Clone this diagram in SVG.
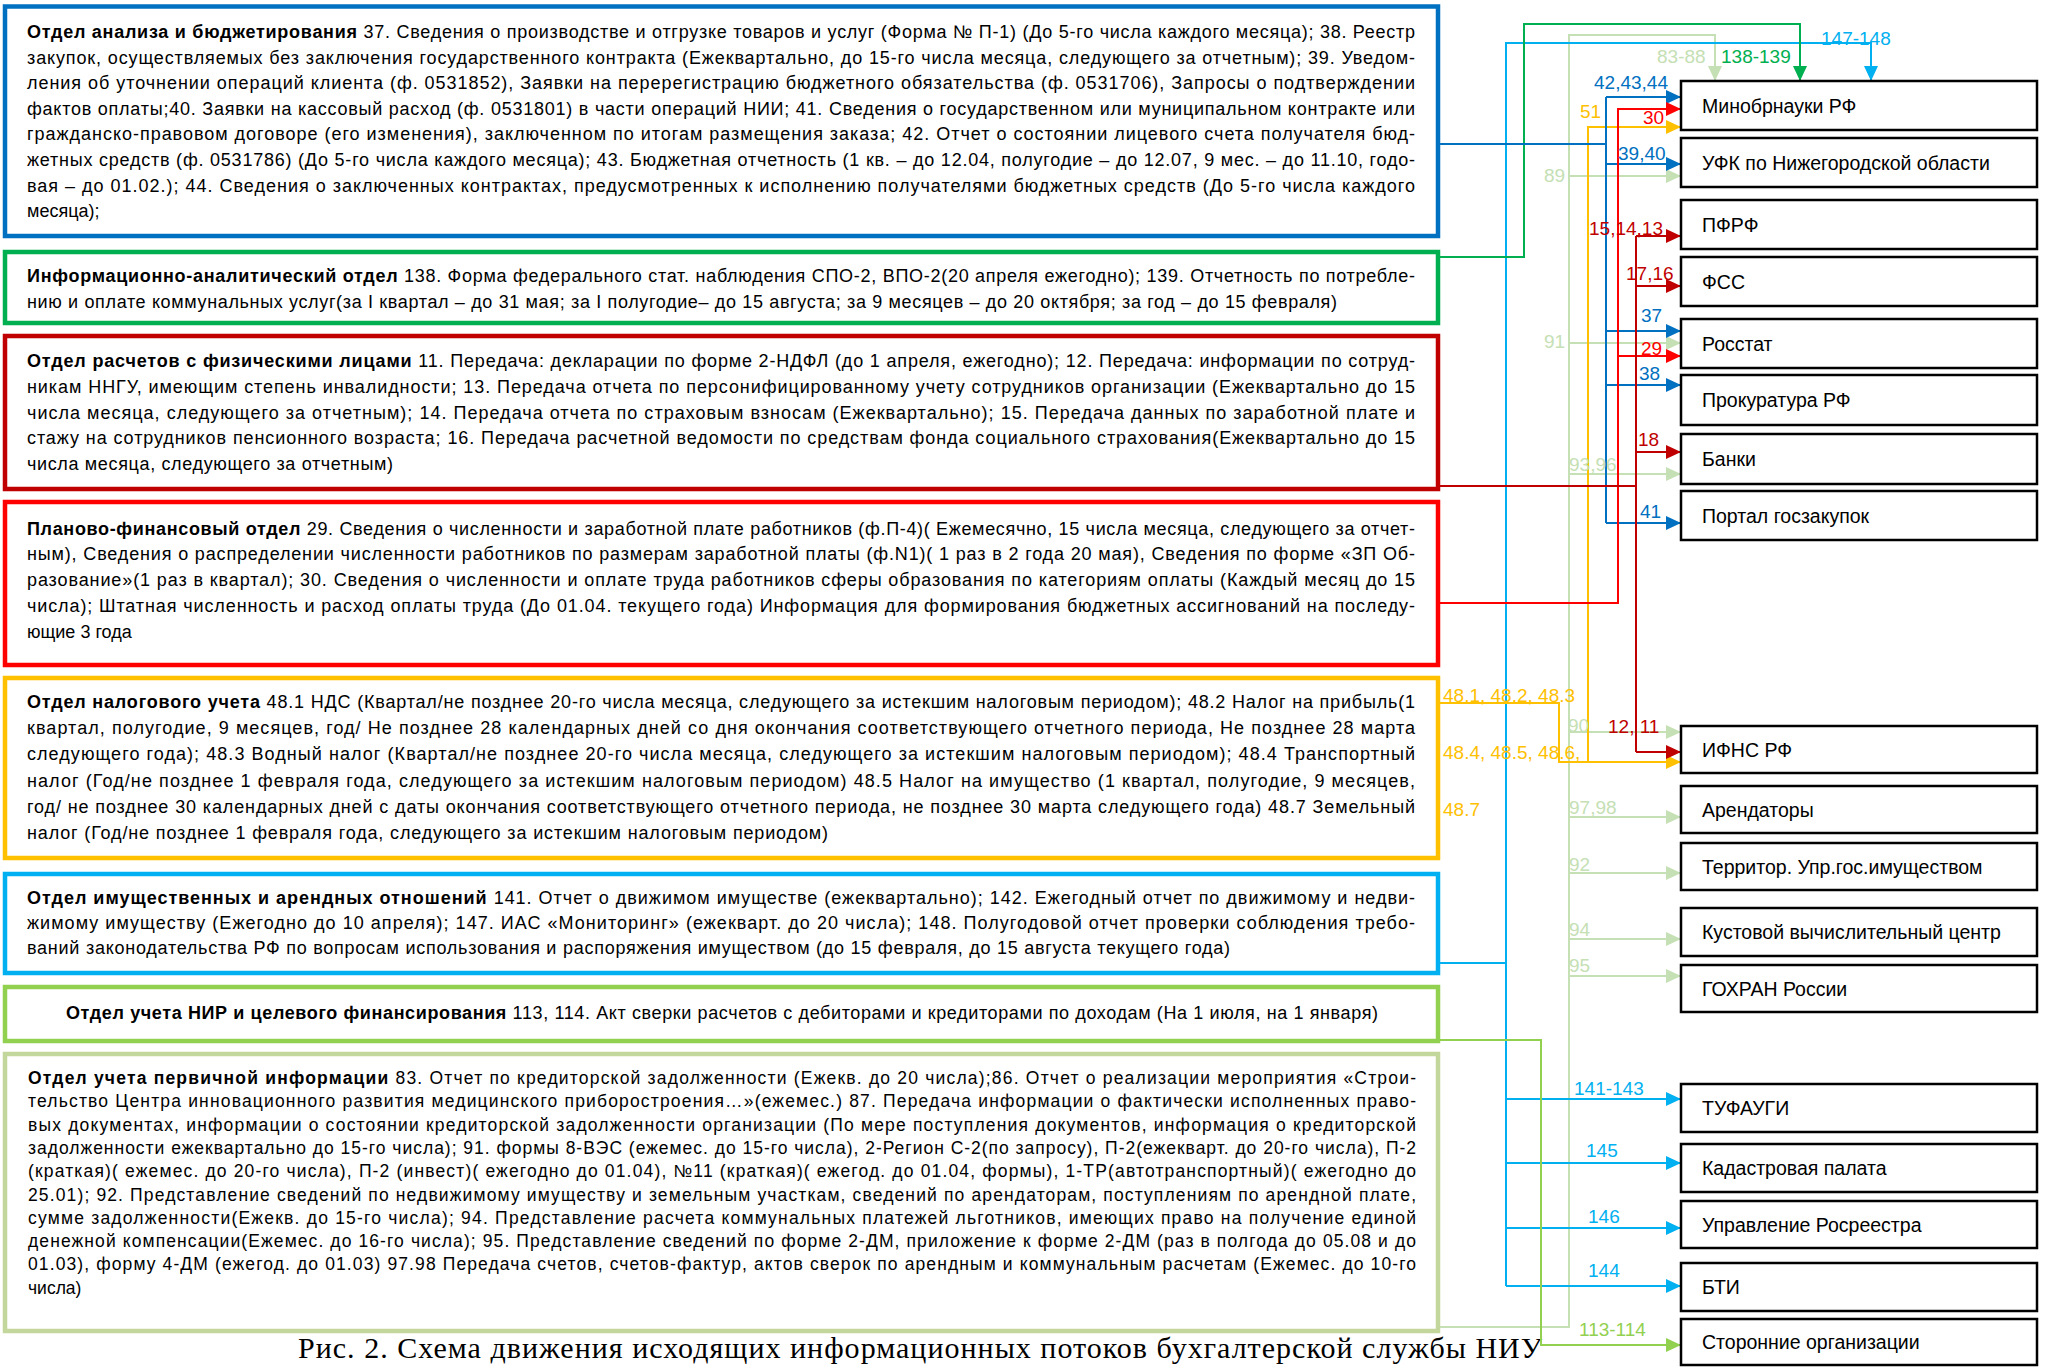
<svg xmlns="http://www.w3.org/2000/svg" width="2047" height="1367" viewBox="0 0 2047 1367">
<style>
.dept{fill:#fff;stroke-width:4.5}
.bt{font-family:"Liberation Sans",Arial,sans-serif;font-size:18px;fill:#000}
.bt8{font-family:"Liberation Sans",Arial,sans-serif;font-size:17.5px;fill:#000}
.b{font-weight:bold}
.node rect{fill:#fff;stroke:#000;stroke-width:2.5}
.node text{font-family:"Liberation Sans",Arial,sans-serif;font-size:19.5px;fill:#000}
.lbl{font-family:"Liberation Sans",Arial,sans-serif;font-size:19px}
.c{fill:none;stroke-width:2}
.cap{font-family:"Liberation Serif","Times New Roman",serif;font-size:30px;fill:#000}
</style>
<defs>
<marker id="mBlue" markerUnits="userSpaceOnUse" markerWidth="15" markerHeight="14" refX="15" refY="7" orient="auto" viewBox="0 0 15 14"><path d="M0,0 L15,7 L0,14 z" fill="#0070C0"/></marker>
<marker id="mRed" markerUnits="userSpaceOnUse" markerWidth="15" markerHeight="14" refX="15" refY="7" orient="auto" viewBox="0 0 15 14"><path d="M0,0 L15,7 L0,14 z" fill="#FF0000"/></marker>
<marker id="mDRed" markerUnits="userSpaceOnUse" markerWidth="15" markerHeight="14" refX="15" refY="7" orient="auto" viewBox="0 0 15 14"><path d="M0,0 L15,7 L0,14 z" fill="#C00000"/></marker>
<marker id="mOrange" markerUnits="userSpaceOnUse" markerWidth="15" markerHeight="14" refX="15" refY="7" orient="auto" viewBox="0 0 15 14"><path d="M0,0 L15,7 L0,14 z" fill="#FFC000"/></marker>
<marker id="mCyan" markerUnits="userSpaceOnUse" markerWidth="15" markerHeight="14" refX="15" refY="7" orient="auto" viewBox="0 0 15 14"><path d="M0,0 L15,7 L0,14 z" fill="#00B0F0"/></marker>
<marker id="mGreen" markerUnits="userSpaceOnUse" markerWidth="15" markerHeight="14" refX="15" refY="7" orient="auto" viewBox="0 0 15 14"><path d="M0,0 L15,7 L0,14 z" fill="#00B050"/></marker>
<marker id="mPale" markerUnits="userSpaceOnUse" markerWidth="15" markerHeight="14" refX="15" refY="7" orient="auto" viewBox="0 0 15 14"><path d="M0,0 L15,7 L0,14 z" fill="#C5E0B4"/></marker>
<marker id="mLGreen" markerUnits="userSpaceOnUse" markerWidth="15" markerHeight="14" refX="15" refY="7" orient="auto" viewBox="0 0 15 14"><path d="M0,0 L15,7 L0,14 z" fill="#92D050"/></marker>
</defs>
<rect width="2047" height="1367" fill="#fff"/>

<g id="dept-analysis">
<rect class="dept" x="5" y="6.5" width="1433" height="229.5" stroke="#0070C0"/>
<text class="bt" x="27" y="38" textLength="1388" lengthAdjust="spacing"><tspan class="b">Отдел анализа и бюджетирования</tspan> 37. Сведения о производстве и отгрузке товаров и услуг (Форма № П-1) (До 5-го числа каждого месяца); 38. Реестр</text>
<text class="bt" x="27" y="63.6" textLength="1388" lengthAdjust="spacing">закупок, осуществляемых без заключения государственного контракта (Ежеквартально, до 15-го числа месяца, следующего за отчетным); 39. Уведом-</text>
<text class="bt" x="27" y="89.2" textLength="1388" lengthAdjust="spacing">ления об уточнении операций клиента (ф. 0531852), Заявки на перерегистрацию бюджетного обязательства (ф. 0531706), Запросы о подтверждении</text>
<text class="bt" x="27" y="114.8" textLength="1388" lengthAdjust="spacing">фактов оплаты;40. Заявки на кассовый расход (ф. 0531801) в части операций НИИ; 41. Сведения о государственном или муниципальном контракте или</text>
<text class="bt" x="27" y="140.4" textLength="1388" lengthAdjust="spacing">гражданско-правовом договоре (его изменения), заключенном по итогам размещения заказа; 42. Отчет о состоянии лицевого счета получателя бюд-</text>
<text class="bt" x="27" y="166" textLength="1388" lengthAdjust="spacing">жетных средств (ф. 0531786) (До 5-го числа каждого месяца); 43. Бюджетная отчетность (1 кв. – до 12.04, полугодие – до 12.07, 9 мес. – до 11.10, годо-</text>
<text class="bt" x="27" y="191.6" textLength="1388" lengthAdjust="spacing">вая – до 01.02.); 44. Сведения о заключенных контрактах, предусмотренных к исполнению получателями бюджетных средств (До  5-го числа каждого</text>
<text class="bt" x="27" y="217.2">месяца);</text>
</g>

<g id="dept-info">
<rect class="dept" x="5" y="252" width="1433" height="71" stroke="#00B050"/>
<text class="bt" x="27" y="282" textLength="1388" lengthAdjust="spacing"><tspan class="b">Информационно-аналитический отдел</tspan> 138. Форма федерального стат. наблюдения СПО-2, ВПО-2(20 апреля ежегодно); 139. Отчетность по потребле-</text>
<text class="bt" x="27" y="307.5" textLength="1310" lengthAdjust="spacing">нию и оплате коммунальных услуг(за I квартал – до 31 мая; за I полугодие– до 15 августа; за 9 месяцев – до 20 октября; за год – до 15 февраля)</text>
</g>

<g id="dept-persons">
<rect class="dept" x="5" y="336" width="1433" height="153" stroke="#C00000"/>
<text class="bt" x="27" y="367" textLength="1388" lengthAdjust="spacing"><tspan class="b">Отдел расчетов с физическими лицами</tspan>  11. Передача: декларации по форме 2-НДФЛ (до 1 апреля, ежегодно); 12. Передача: информации по сотруд-</text>
<text class="bt" x="27" y="392.8" textLength="1388" lengthAdjust="spacing">никам ННГУ, имеющим степень инвалидности; 13. Передача отчета по персонифицированному учету сотрудников организации (Ежеквартально до 15</text>
<text class="bt" x="27" y="418.6" textLength="1388" lengthAdjust="spacing">числа месяца, следующего за отчетным); 14. Передача отчета по страховым взносам (Ежеквартально); 15. Передача данных по заработной плате и</text>
<text class="bt" x="27" y="444.4" textLength="1388" lengthAdjust="spacing">стажу на сотрудников пенсионного возраста; 16. Передача расчетной ведомости по средствам фонда социального страхования(Ежеквартально до 15</text>
<text class="bt" x="27" y="470.2" textLength="366" lengthAdjust="spacing">числа месяца, следующего за отчетным)</text>
</g>

<g id="dept-planning">
<rect class="dept" x="5" y="502" width="1433" height="163" stroke="#FF0000"/>
<text class="bt" x="27" y="534.5" textLength="1388" lengthAdjust="spacing"><tspan class="b">Планово-финансовый отдел</tspan>  29. Сведения о численности и заработной плате работников (ф.П-4)( Ежемесячно, 15 числа месяца, следующего за отчет-</text>
<text class="bt" x="27" y="560.3" textLength="1388" lengthAdjust="spacing">ным), Сведения о распределении численности работников по размерам заработной платы (ф.N1)( 1 раз в 2 года 20 мая), Сведения по форме «ЗП Об-</text>
<text class="bt" x="27" y="586.1" textLength="1388" lengthAdjust="spacing">разование»(1 раз в квартал); 30. Сведения о численности и оплате труда работников сферы образования по категориям оплаты (Каждый месяц до 15</text>
<text class="bt" x="27" y="611.9" textLength="1388" lengthAdjust="spacing">числа); Штатная численность и расход оплаты труда (До 01.04. текущего года) Информация для формирования бюджетных ассигнований на последу-</text>
<text class="bt" x="27" y="637.7">ющие 3 года</text>
</g>

<g id="dept-tax">
<rect class="dept" x="5" y="678" width="1433" height="180" stroke="#FFC000"/>
<text class="bt" x="27" y="708" textLength="1388" lengthAdjust="spacing"><tspan class="b">Отдел налогового учета</tspan> 48.1 НДС (Квартал/не позднее 20-го числа месяца, следующего за истекшим налоговым периодом); 48.2 Налог на прибыль(1</text>
<text class="bt" x="27" y="734.2" textLength="1388" lengthAdjust="spacing">квартал, полугодие, 9 месяцев, год/ Не позднее 28 календарных дней со дня окончания соответствующего отчетного периода,  Не позднее 28 марта</text>
<text class="bt" x="27" y="760.4" textLength="1388" lengthAdjust="spacing">следующего года); 48.3 Водный налог (Квартал/не позднее 20-го числа месяца, следующего за истекшим налоговым периодом); 48.4 Транспортный</text>
<text class="bt" x="27" y="786.6" textLength="1388" lengthAdjust="spacing">налог (Год/не позднее 1 февраля года, следующего за истекшим налоговым периодом) 48.5 Налог на имущество (1 квартал, полугодие, 9 месяцев,</text>
<text class="bt" x="27" y="812.8" textLength="1388" lengthAdjust="spacing">год/ не позднее 30 календарных дней с даты окончания соответствующего отчетного периода, не позднее 30 марта следующего года) 48.7 Земельный</text>
<text class="bt" x="27" y="839" textLength="801" lengthAdjust="spacing">налог (Год/не позднее 1 февраля года, следующего за истекшим налоговым периодом)</text>
</g>

<g id="dept-property">
<rect class="dept" x="5" y="874" width="1433" height="99" stroke="#00B0F0"/>
<text class="bt" x="27" y="904" textLength="1388" lengthAdjust="spacing"><tspan class="b">Отдел имущественных и арендных отношений</tspan> 141. Отчет о движимом имуществе (ежеквартально); 142. Ежегодный отчет по движимому и недви-</text>
<text class="bt" x="27" y="929" textLength="1388" lengthAdjust="spacing">жимому имуществу (Ежегодно до 10 апреля); 147. ИАС «Мониторинг» (ежекварт. до 20 числа); 148. Полугодовой отчет проверки соблюдения  требо-</text>
<text class="bt" x="27" y="953.5" textLength="1203" lengthAdjust="spacing">ваний законодательства РФ по вопросам использования и распоряжения имуществом (до 15 февраля, до 15 августа текущего года)</text>
</g>

<g id="dept-nir">
<rect class="dept" x="5" y="987" width="1433" height="54" stroke="#92D050"/>
<text class="bt" x="66" y="1019" textLength="1312" lengthAdjust="spacing"><tspan class="b">Отдел учета НИР и целевого финансирования</tspan> 113, 114. Акт сверки расчетов с дебиторами и кредиторами по доходам (На 1 июля, на 1 января)</text>
</g>

<g id="dept-primary">
<rect class="dept" x="5" y="1054" width="1433" height="277" stroke="#C3D69B"/>
<text class="bt8" x="28" y="1084" textLength="1388" lengthAdjust="spacing"><tspan class="b">Отдел учета первичной информации</tspan> 83. Отчет по кредиторской задолженности (Ежекв. до 20 числа);86. Отчет о реализации мероприятия «Строи-</text>
<text class="bt8" x="28" y="1107.3" textLength="1388" lengthAdjust="spacing">тельство Центра инновационного развития медицинского приборостроения…»(ежемес.) 87. Передача информации о фактически исполненных право-</text>
<text class="bt8" x="28" y="1130.6" textLength="1388" lengthAdjust="spacing">вых документах, информации о состоянии кредиторской задолженности организации (По мере поступления документов, информация о кредиторской</text>
<text class="bt8" x="28" y="1153.9" textLength="1388" lengthAdjust="spacing">задолженности ежеквартально до 15-го числа); 91. формы 8-ВЭС (ежемес. до 15-го числа), 2-Регион С-2(по запросу), П-2(ежекварт. до 20-го числа), П-2</text>
<text class="bt8" x="28" y="1177.2" textLength="1388" lengthAdjust="spacing">(краткая)( ежемес. до 20-го числа), П-2 (инвест)( ежегодно до 01.04), №11 (краткая)( ежегод. до 01.04, формы), 1-ТР(автотранспортный)( ежегодно до</text>
<text class="bt8" x="28" y="1200.5" textLength="1388" lengthAdjust="spacing">25.01); 92. Представление сведений по недвижимому имуществу и земельным участкам, сведений по арендаторам, поступлениям по арендной плате,</text>
<text class="bt8" x="28" y="1223.8" textLength="1388" lengthAdjust="spacing">сумме задолженности(Ежекв. до 15-го числа); 94. Представление расчета коммунальных платежей льготников, имеющих право на получение единой</text>
<text class="bt8" x="28" y="1247.1" textLength="1388" lengthAdjust="spacing">денежной компенсации(Ежемес. до 16-го числа); 95. Представление сведений по форме 2-ДМ, приложение к форме 2-ДМ (раз в полгода до 05.08 и до</text>
<text class="bt8" x="28" y="1270.4" textLength="1388" lengthAdjust="spacing">01.03), форму 4-ДМ (ежегод. до 01.03) 97.98 Передача счетов, счетов-фактур, актов сверок по арендным и коммунальным расчетам (Ежемес. до 10-го</text>
<text class="bt8" x="28" y="1293.7">числа)</text>
</g>

<text id="caption" class="cap" x="298" y="1358" textLength="1244" lengthAdjust="spacing">Рис. 2. Схема движения исходящих информационных потоков бухгалтерской службы НИУ</text>

<g id="connectors">
<g stroke="#C5E0B4">
<path class="c" d="M1440,1327 H1569 V35 H1715 V81" marker-end="url(#mPale)"/>
<path class="c" d="M1569,176 H1681" marker-end="url(#mPale)"/>
<path class="c" d="M1569,343 H1681" marker-end="url(#mPale)"/>
<path class="c" d="M1569,474 H1681" marker-end="url(#mPale)"/>
<path class="c" d="M1569,732 H1681" marker-end="url(#mPale)"/>
<path class="c" d="M1569,817 H1681" marker-end="url(#mPale)"/>
<path class="c" d="M1569,873 H1681" marker-end="url(#mPale)"/>
<path class="c" d="M1569,939 H1681" marker-end="url(#mPale)"/>
<path class="c" d="M1569,976 H1681" marker-end="url(#mPale)"/>
</g>
<g stroke="#00B0F0">
<path class="c" d="M1440,963 H1506"/>
<path class="c" d="M1506,1286 V43 H1871 V81" marker-end="url(#mCyan)"/>
<path class="c" d="M1506,1099 H1681" marker-end="url(#mCyan)"/>
<path class="c" d="M1506,1163 H1681" marker-end="url(#mCyan)"/>
<path class="c" d="M1506,1228 H1681" marker-end="url(#mCyan)"/>
<path class="c" d="M1506,1286 H1681" marker-end="url(#mCyan)"/>
</g>
<path class="c" stroke="#00B050" d="M1440,257 H1524 V24 H1800 V81" marker-end="url(#mGreen)"/>
<path class="c" stroke="#92D050" d="M1440,1040 H1541 V1345 H1681" marker-end="url(#mLGreen)"/>
<path class="c" stroke="#FFC000" stroke-width="1.3" d="M1440,703 H1559 V762 H1681" marker-end="url(#mOrange)"/>
<path class="c" stroke="#FFC000" stroke-width="2.5" d="M1588,762 V127 H1681" marker-end="url(#mOrange)"/>
<g stroke="#0070C0">
<path class="c" d="M1440,144 H1606"/>
<path class="c" d="M1606,97 V523"/>
<path class="c" d="M1606,97 H1681" marker-end="url(#mBlue)"/>
<path class="c" d="M1606,164 H1681" marker-end="url(#mBlue)"/>
<path class="c" d="M1606,331 H1681" marker-end="url(#mBlue)"/>
<path class="c" d="M1606,385 H1681" marker-end="url(#mBlue)"/>
<path class="c" d="M1606,523 H1681" marker-end="url(#mBlue)"/>
</g>
<g stroke="#FF0000">
<path class="c" stroke-width="1.5" d="M1440,603 H1618 V109 H1681" marker-end="url(#mRed)"/>
<path class="c" stroke-width="1.5" d="M1618,356 H1681" marker-end="url(#mRed)"/>
</g>
<g stroke="#C00000">
<path class="c" d="M1440,486 H1636"/>
<path class="c" d="M1636,236 V752"/>
<path class="c" d="M1636,236 H1681" marker-end="url(#mDRed)"/>
<path class="c" d="M1636,286 H1681" marker-end="url(#mDRed)"/>
<path class="c" d="M1636,452 H1681" marker-end="url(#mDRed)"/>
<path class="c" d="M1636,752 H1681" marker-end="url(#mDRed)"/>
</g>
<g class="lbl">
<text x="1821" y="45" fill="#00B0F0">147-148</text>
<text x="1657" y="63" fill="#C5E0B4">83-88</text>
<text x="1721" y="63" fill="#00B050">138-139</text>
<text x="1594" y="89" fill="#0070C0">42,43,44</text>
<text x="1580" y="118" fill="#FFC000">51</text>
<text x="1643" y="124" fill="#FF0000">30</text>
<text x="1618" y="160" fill="#0070C0">39,40</text>
<text x="1544" y="182" fill="#C5E0B4">89</text>
<text x="1589" y="235" fill="#C00000">15,14,13</text>
<text x="1626" y="280" fill="#C00000">17,16</text>
<text x="1641" y="322" fill="#0070C0">37</text>
<text x="1544" y="348" fill="#C5E0B4">91</text>
<text x="1641" y="355" fill="#FF0000">29</text>
<text x="1639" y="380" fill="#0070C0">38</text>
<text x="1638" y="446" fill="#C00000">18</text>
<text x="1569" y="471" fill="#C5E0B4">93,96</text>
<text x="1640" y="518" fill="#0070C0">41</text>
<text x="1443" y="702" fill="#FFC000">48.1, 48.2, 48.3</text>
<text x="1568" y="732" fill="#C5E0B4">90</text>
<text x="1608" y="733" fill="#C00000">12, 11</text>
<text x="1443" y="759" fill="#FFC000">48.4, 48.5, 48.6,</text>
<text x="1569" y="814" fill="#C5E0B4">97,98</text>
<text x="1443" y="816" fill="#FFC000">48.7</text>
<text x="1569" y="871" fill="#C5E0B4">92</text>
<text x="1569" y="936" fill="#C5E0B4">94</text>
<text x="1569" y="972" fill="#C5E0B4">95</text>
<text x="1574" y="1095" fill="#00B0F0">141-143</text>
<text x="1586" y="1157" fill="#00B0F0">145</text>
<text x="1588" y="1223" fill="#00B0F0">146</text>
<text x="1588" y="1277" fill="#00B0F0">144</text>
<text x="1579" y="1336" fill="#92D050">113-114</text>
</g>
</g>

<g id="n-minobr" class="node"><rect x="1681" y="81" width="356" height="49"/><text x="1702" y="112.5">Минобрнауки РФ</text></g>
<g id="n-ufk" class="node"><rect x="1681" y="138" width="356" height="49"/><text x="1702" y="169.5">УФК по Нижегородской области</text></g>
<g id="n-pfrf" class="node"><rect x="1681" y="200" width="356" height="49"/><text x="1702" y="231.5">ПФРФ</text></g>
<g id="n-fss" class="node"><rect x="1681" y="257" width="356" height="49"/><text x="1702" y="288.5">ФСС</text></g>
<g id="n-rosstat" class="node"><rect x="1681" y="319" width="356" height="49"/><text x="1702" y="350.5">Росстат</text></g>
<g id="n-prokuratura" class="node"><rect x="1681" y="375" width="356" height="50"/><text x="1702" y="407">Прокуратура РФ</text></g>
<g id="n-banki" class="node"><rect x="1681" y="434" width="356" height="50"/><text x="1702" y="466">Банки</text></g>
<g id="n-portal" class="node"><rect x="1681" y="491" width="356" height="49"/><text x="1702" y="522.5">Портал госзакупок</text></g>
<g id="n-ifns" class="node"><rect x="1681" y="726" width="356" height="47"/><text x="1702" y="756.5">ИФНС РФ</text></g>
<g id="n-arendatory" class="node"><rect x="1681" y="786" width="356" height="47"/><text x="1702" y="816.5">Арендаторы</text></g>
<g id="n-territor" class="node"><rect x="1681" y="843" width="356" height="47"/><text x="1702" y="873.5">Территор. Упр.гос.имуществом</text></g>
<g id="n-kust" class="node"><rect x="1681" y="908" width="356" height="48"/><text x="1702" y="939">Кустовой вычислительный центр</text></g>
<g id="n-gohran" class="node"><rect x="1681" y="965" width="356" height="47"/><text x="1702" y="995.5">ГОХРАН России</text></g>
<g id="n-tufaugi" class="node"><rect x="1681" y="1084" width="356" height="48"/><text x="1702" y="1115">ТУФАУГИ</text></g>
<g id="n-kadastr" class="node"><rect x="1681" y="1144" width="356" height="48"/><text x="1702" y="1175">Кадастровая палата</text></g>
<g id="n-rosreestr" class="node"><rect x="1681" y="1201" width="356" height="47"/><text x="1702" y="1231.5">Управление Росреестра</text></g>
<g id="n-bti" class="node"><rect x="1681" y="1263" width="356" height="48"/><text x="1702" y="1294">БТИ</text></g>
<g id="n-storonnie" class="node"><rect x="1681" y="1319" width="356" height="46"/><text x="1702" y="1349">Сторонние организации</text></g>
</svg>
